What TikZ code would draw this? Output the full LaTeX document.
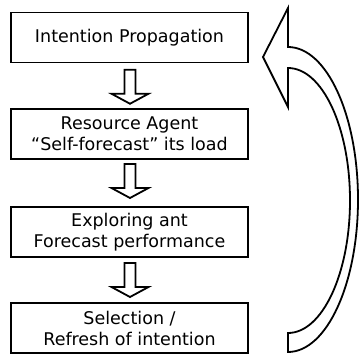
\documentclass[tikz,border=0pt]{standalone}
\usepackage{fontspec}
\setmainfont{DejaVu Sans}
\usetikzlibrary{calc}
\begin{document}
\begin{tikzpicture}[x=1pt,y=1pt,
  stepbox/.style={draw, line width=1.8pt, minimum width=237pt, minimum height=50pt,
    inner sep=0pt, align=center, font=\fontsize{17.5}{21}\selectfont},
  blockarrow/.style={draw, line width=1.8pt, line join=miter, fill=white},
  downarrow/.pic={
    \draw[blockarrow] (-5.5,17) -- (5.5,17) -- (5.5,-7) -- (18.5,-7) -- (0,-17)
      -- (-18.5,-7) -- (-5.5,-7) -- cycle;
  }]
\useasboundingbox (0,0) rectangle (359,354);

% process steps
\node[stepbox] (b1) at (129.5,316.5) {Intention Propagation};
\node[stepbox] (b2) at (129.5,220) {Resource Agent\\``Self-forecast'' its load};
\node[stepbox] (b3) at (129.5,122) {Exploring ant\\Forecast performance};
\node[stepbox] (b4) at (129.5,26) {Selection /\\Refresh of intention};

% hollow arrows between consecutive steps
\pic at ($(b1.south)!0.5!(b2.north)+(0.5,-1)$) {downarrow};
\pic at ($(b2.south)!0.5!(b3.north)+(0.5,2)$) {downarrow};
\pic at ($(b3.south)!0.5!(b4.north)+(0.5,0)$) {downarrow};

% feedback loop from the last step back to the first
\coordinate (looptip) at (263,297);
\draw[blockarrow] (looptip) -- (288,346) -- (288,307)
  arc[start angle=90, end angle=-90, x radius=70, y radius=152.5]
  -- (288,21)
  arc[start angle=-90, end angle=90, x radius=62, y radius=132.5]
  -- (288,247) -- cycle;
\end{tikzpicture}
\end{document}
